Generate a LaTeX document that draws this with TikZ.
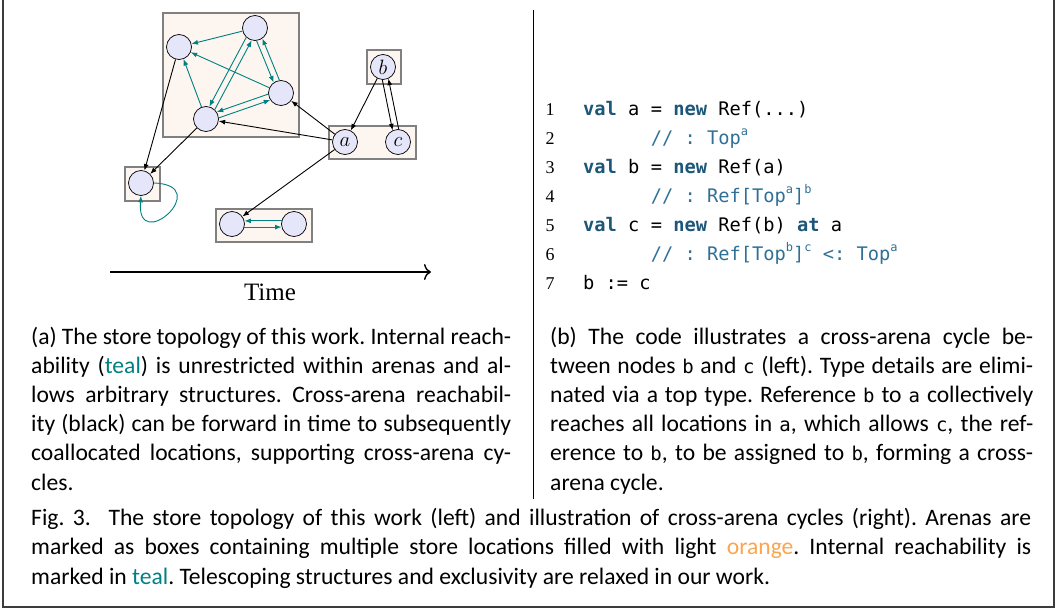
\documentclass[tikz,border=0pt]{standalone}
\usepackage{fontspec}
\newfontfamily\capfont{Carlito}
\newfontfamily\serfont{Liberation Serif}
\setmonofont{DejaVu Sans Mono}
\usetikzlibrary{arrows.meta,calc}
\definecolor{tealc}{RGB}{0,128,128}
\definecolor{nodefill}{RGB}{230,230,250}
\definecolor{arenafill}{RGB}{253,246,240}
\definecolor{arenaborder}{RGB}{128,128,128}
\definecolor{kwc}{RGB}{28,86,120}
\definecolor{cmc}{RGB}{48,112,150}
\definecolor{orangec}{RGB}{250,165,80}
\definecolor{framec}{RGB}{60,60,60}
\frenchspacing
\newcommand\kw[1]{{\bfseries\color{kwc}#1}}
\newcommand\sps[1]{\raisebox{0.45em}{\fontsize{12}{12}\selectfont #1}}
\newcommand\capline[2]{\makebox[#1][s]{#2}}
\newcommand\mt[1]{{\ttfamily\fontsize{19}{19}\selectfont #1}}
\tikzset{
  loc/.style={circle, draw=black, line width=0.7pt, fill=nodefill, minimum size=25pt, inner sep=0pt, font=\fontsize{22}{22}\selectfont\itshape},
  arena/.style={draw=arenaborder, line width=1.8pt, fill=arenafill, inner sep=0pt, anchor=north west},
  tealarr/.style={draw=tealc, line width=0.9pt, -{Latex[length=6.5pt,width=5pt]}},
  blkarr/.style={draw=black, line width=0.9pt, -{Latex[length=6.5pt,width=5pt]}},
  code/.style={anchor=base west, inner sep=0pt, font=\ttfamily\fontsize{18.7}{18.7}\selectfont},
  cmt/.style={code, text=cmc},
  lnum/.style={anchor=base, inner sep=0pt, font=\serfont\fontsize{18}{18}\selectfont},
  captxt/.style={anchor=base west, inner sep=0pt, font=\capfont\fontsize{23.6}{29}\selectfont\frenchspacing},
}
\begin{document}
\begin{tikzpicture}[x=1pt,y=-1pt]
\useasboundingbox (0,0) rectangle (1063,610);
% frame
\coordinate (fTL) at (3,0);
\coordinate (fBL) at (3,607);
\coordinate (fBR) at (1054,607);
\coordinate (fTR) at (1054,0);
\draw[framec, line width=1.4pt] (fTL) -- (fBL) -- (fBR) -- (fTR);
\coordinate (d0) at (533,10);
\coordinate (d1) at (533,499);
\draw[black, line width=0.9pt] (d0) -- (d1);

% arenas
\node[arena, minimum width=136pt, minimum height=124pt] (big) at (162,12) {};
\node[arena, minimum width=34pt, minimum height=34pt] (bbox) at (366,49) {};
\node[arena, minimum width=87pt, minimum height=33pt] (acbox) at (328,125) {};
\node[arena, minimum width=35pt, minimum height=34pt] (lbox) at (124,166) {};
\node[arena, minimum width=96pt, minimum height=33pt] (pqbox) at (215,208) {};

% locations
\node[loc] (n1) at (255,28) {};
\node[loc] (n2) at (179,47) {};
\node[loc] (n3) at (281,93) {};
\node[loc] (n4) at (206,119) {};
\node[loc] (b) at (383,67) {$b$};
\node[loc] (a) at (345,142) {$a$};
\node[loc] (c) at (398,142) {$c$};
\node[loc] (L) at (141,183) {};
\node[loc] (p) at (232,224) {};
\node[loc] (q) at (294,224) {};

% internal (teal)
\draw[tealarr] (n1) -- (n2);
\draw[tealarr] (n3) -- (n2);
\draw[tealarr] (n4) -- (n2);
\draw[tealarr] (n1.227.7) -- (n4.75.7);
\draw[tealarr] (n4.47.7) -- (n1.255.7);
\draw[tealarr] (n1.277.8) -- (n3.125.8);
\draw[tealarr] (n3.97.8) -- (n1.305.8);
\draw[tealarr] (n3.185.1) -- (n4.33.1);
\draw[tealarr] (n4.5.1) -- (n3.213.1);
\draw[tealarr] (p.346) -- (q.194);
\draw[tealarr] (q.166) -- (p.14);
\draw[tealarr] (L.east) .. controls +(61.5,2) and +(-5,60) .. (L.south);

% cross-arena (black)
\draw[blkarr] (n2) -- (L);
\draw[blkarr] (n4) -- (L);
\draw[blkarr] (a) -- (n3);
\draw[blkarr] (a) -- (n4);
\draw[blkarr] (b) -- (a);
\draw[blkarr] (b.267.3) -- (c.115.3);
\draw[blkarr] (c.87.3) -- (b.295.3);
\draw[blkarr] (a) -- (p);

% time axis
\coordinate (t0) at (110,272);
\coordinate (t1) at (431,272);
\draw[line width=1.4pt, -{Computer Modern Rightarrow[length=7pt,width=16pt,line width=1.4pt]}] (t0) -- (t1);
\node[inner sep=0pt, font=\serfont\fontsize{25}{25}\selectfont] (time) at (270,292) {Time};

% code
\node[lnum] (l1) at (550,115) {1};
\node[lnum] (l2) at (550,144) {2};
\node[lnum] (l3) at (550,173) {3};
\node[lnum] (l4) at (550,202) {4};
\node[lnum] (l5) at (550,231) {5};
\node[lnum] (l6) at (550,260) {6};
\node[lnum] (l7) at (550,289) {7};
\node[code] (c1) at (583,115) {\kw{val} a = \kw{new} Ref(...)};
\node[cmt] (c2) at (650.6,144) {// : Top\sps{a}};
\node[code] (c3) at (583,173) {\kw{val} b = \kw{new} Ref(a)};
\node[cmt] (c4) at (650.6,202) {// : Ref[Top\sps{a}]\sps{b}};
\node[code] (c5) at (583,231) {\kw{val} c = \kw{new} Ref(b) \kw{at} a};
\node[cmt] (c6) at (650.6,260) {// : Ref[Top\sps{b}]\sps{c} <: Top\sps{a}};
\node[code] (c7) at (583,289) {b := c};

% subcaption (a)
\node[captxt] (a1) at (31,344) {\capline{480pt}{(a) The store topology of this work. Internal reach-}};
\node[captxt] (a2) at (31,373.2) {\capline{480pt}{ability (\textcolor{tealc}{teal}) is unrestricted within arenas and al-}};
\node[captxt] (a3) at (31,402.4) {\capline{480pt}{lows arbitrary structures. Cross-arena reachabil-}};
\node[captxt] (a4) at (31,431.6) {\capline{480pt}{ity (black) can be forward in time to subsequently}};
\node[captxt] (a5) at (31,460.8) {\capline{480pt}{coallocated locations, supporting cross-arena cy-}};
\node[captxt] (a6) at (31,490) {cles.};

% subcaption (b)
\node[captxt] (b1) at (550,344) {\capline{483pt}{(b) The code illustrates a cross-arena cycle be-}};
\node[captxt] (b2) at (550,373.2) {\capline{483pt}{tween nodes \mt{b} and \mt{c} (left). Type details are elimi-}};
\node[captxt] (b3) at (550,402.4) {\capline{483pt}{nated via a top type. Reference \mt{b} to \mt{a} collectively}};
\node[captxt] (b4) at (550,431.6) {\capline{483pt}{reaches all locations in \mt{a}, which allows \mt{c}, the ref-}};
\node[captxt] (b5) at (550,460.8) {\capline{483pt}{erence to \mt{b}, to be assigned to \mt{b}, forming a cross-}};
\node[captxt] (b6) at (550,490) {arena cycle.};

% figure caption
\node[captxt] (f1) at (31,525.7) {\capline{1000pt}{Fig. 3.\hspace{0.4em} The store topology of this work (left) and illustration of cross-arena cycles (right). Arenas are}};
\node[captxt] (f2) at (31,554.9) {\capline{1000pt}{marked as boxes containing multiple store locations filled with light \textcolor{orangec}{orange}. Internal reachability is}};
\node[captxt] (f3) at (31,584.1) {marked in \textcolor{tealc}{teal}. Telescoping structures and exclusivity are relaxed in our work.};
\end{tikzpicture}
\end{document}
